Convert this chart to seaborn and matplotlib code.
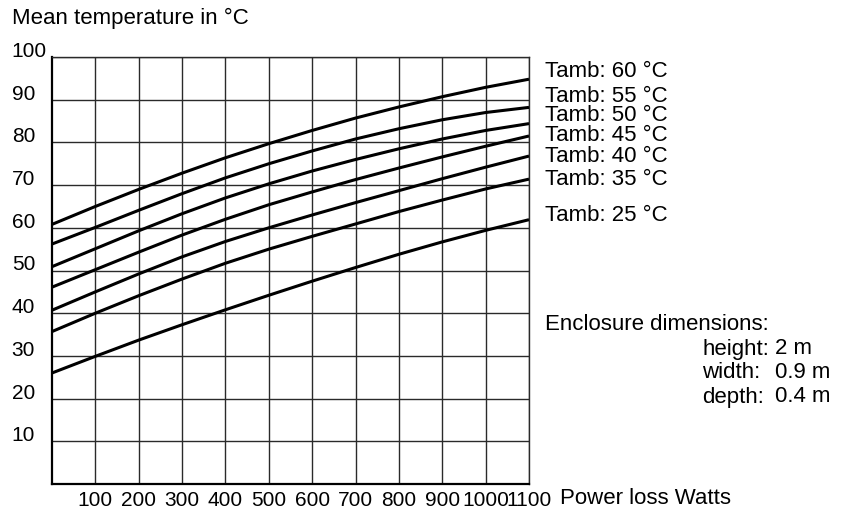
import matplotlib
matplotlib.use("Agg")
import matplotlib.pyplot as plt
import seaborn as sns
import pandas as pd

# ---- data ----
power_w = [0, 100, 200, 300, 400, 500, 600, 700, 800, 900, 1000, 1100]
t_amb_60 = [60.8, 65.0, 69.0, 72.8, 76.4, 79.7, 82.8, 85.7, 88.3, 90.7, 92.9, 94.8]
t_amb_55 = [56.2, 60.1, 64.1, 68.0, 71.7, 75.0, 78.0, 80.8, 83.2, 85.3, 87.0, 88.2]
t_amb_50 = [50.9, 55.1, 59.3, 63.3, 67.0, 70.3, 73.3, 76.0, 78.5, 80.8, 82.8, 84.4]
t_amb_45 = [46.1, 50.2, 54.3, 58.3, 62.0, 65.4, 68.4, 71.3, 74.0, 76.6, 79.1, 81.5]
t_amb_40 = [40.7, 45.0, 49.2, 53.2, 56.8, 60.0, 63.0, 65.9, 68.7, 71.5, 74.2, 76.8]
t_amb_35 = [35.7, 40.0, 44.1, 48.0, 51.7, 55.0, 58.0, 60.9, 63.8, 66.5, 69.1, 71.4]
t_amb_25 = [26.0, 29.9, 33.7, 37.3, 40.8, 44.2, 47.5, 50.7, 53.8, 56.7, 59.4, 61.9]

series_names = ["Tamb: 60 °C", "Tamb: 55 °C", "Tamb: 50 °C", "Tamb: 45 °C",
                "Tamb: 40 °C", "Tamb: 35 °C", "Tamb: 25 °C"]
series_values = [t_amb_60, t_amb_55, t_amb_50, t_amb_45, t_amb_40, t_amb_35, t_amb_25]
label_y = [96.6, 90.7, 86.3, 81.5, 76.6, 71.4, 62.8]

x_ticks = [100, 200, 300, 400, 500, 600, 700, 800, 900, 1000, 1100]
y_ticks = [10, 20, 30, 40, 50, 60, 70, 80, 90, 100]

title_text = "Mean temperature in °C"
x_title = "Power loss Watts"
enclosure_title = "Enclosure dimensions:"
enclosure_keys = ["height:", "width:", "depth:"]
enclosure_vals = ["2 m", "0.9 m", "0.4 m"]

# ---- build table ----
rows = []
for name, vals in zip(series_names, series_values):
    for x, y in zip(power_w, vals):
        rows.append({"power": x, "temp": y, "series": name})
df = pd.DataFrame(rows)

sns.set_theme(style="white")
plt.rcParams["font.family"] = ["Liberation Sans", "DejaVu Sans"]
FS = 16
TFS = 15

W, H = 844, 512
fig = plt.figure(figsize=(W / 100, H / 100), dpi=100)
ax_l, ax_r, ax_b, ax_t = 52, 529, 484, 57
ax = fig.add_axes([ax_l / W, (H - ax_b) / H, (ax_r - ax_l) / W, (ax_b - ax_t) / H])

sns.lineplot(data=df, x="power", y="temp", hue="series", hue_order=series_names,
             palette=["black"] * len(series_names), linewidth=2.2, legend=False,
             ax=ax, zorder=3)
for ln in ax.get_lines():
    ln.set_solid_joinstyle("round")
    ln.set_solid_capstyle("butt")

ax.set_xlim(0, 1100)
ax.set_ylim(0, 100)
ax.set_xticks(x_ticks)
ax.set_xticklabels([str(v) for v in x_ticks])
ax.set_yticks(y_ticks)
ax.set_yticklabels([str(v) for v in y_ticks])
ax.set_xlabel("")
ax.set_ylabel("")
ax.grid(True, color="#2a2a2a", linewidth=1.0)
ax.set_axisbelow(True)

ax.tick_params(axis="x", length=0, pad=5, labelsize=TFS, colors="black")
ax.tick_params(axis="y", length=0, pad=29, labelsize=TFS, colors="black")
for lbl in ax.get_yticklabels():
    lbl.set_horizontalalignment("left")
    lbl.set_verticalalignment("baseline")

for side in ["top", "right"]:
    ax.spines[side].set_color("#2a2a2a")
    ax.spines[side].set_linewidth(1.0)
for side in ["left", "bottom"]:
    ax.spines[side].set_color("black")
    ax.spines[side].set_linewidth(1.6)

# series labels on the right
for name, ly in zip(series_names, label_y):
    ax.annotate(name, xy=(1, ly), xycoords=("axes fraction", "data"),
                xytext=(16, 0), textcoords="offset pixels",
                ha="left", va="center", fontsize=FS, color="black",
                annotation_clip=False)

# title
fig.text(12 / W, 1 - 18 / H, title_text, ha="left", va="center", fontsize=FS, color="black")

# x axis title
fig.text(560 / W, 1 - 499 / H, x_title, ha="left", va="center", fontsize=FS, color="black")

# enclosure text block
fig.text(545 / W, 1 - 325 / H, enclosure_title, ha="left", va="center", fontsize=FS, color="black")
for i, (k, v) in enumerate(zip(enclosure_keys, enclosure_vals)):
    yy = 349 + i * 24
    fig.text(702 / W, 1 - yy / H, k, ha="left", va="center", fontsize=FS, color="black")
    fig.text(775 / W, 1 - yy / H, v, ha="left", va="center", fontsize=FS, color="black")

fig.savefig("out.png", dpi=100, facecolor="white")
